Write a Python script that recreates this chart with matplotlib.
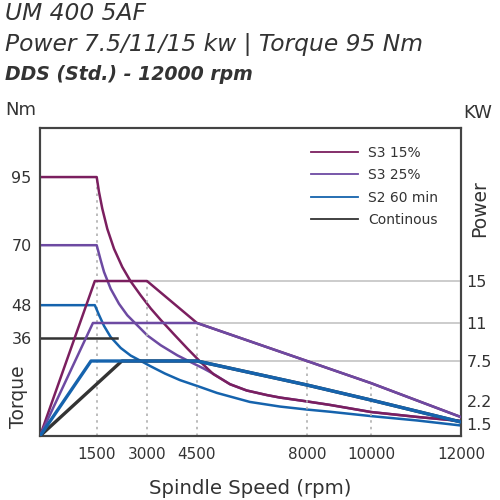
import numpy as np
import matplotlib
matplotlib.use("Agg")
import matplotlib.pyplot as plt

# --- data ---
labels = ["S3 15%", "S3 25%", "S2 60 min", "Continous"]
colors = ["#7b1f5f", "#6d4aa2", "#1563ad", "#333333"]

# torque curves (rpm, Nm)
s3_15_torque_rpm = [0, 1500, 1569, 1667, 1816, 2016, 2263, 2514, 2812, 3111, 3411, 3810, 4210,
                    4600, 5020, 5550, 6080, 6730, 7140, 7990, 8720, 10000, 11020, 12000]
s3_15_torque_nm = [95, 95, 89.5, 83.4, 76.0, 68.7, 62.0, 56.7, 51.6, 46.8, 42.6, 37.3, 32.1,
                   27.3, 22.7, 19.0, 16.7, 15.0, 14.1, 12.7, 11.4, 8.8, 7.0, 5.5]
s3_25_torque_rpm = [0, 1500, 1619, 1718, 1917, 2165, 2412, 2711, 3009, 3411, 3909, 4410, 4720,
                    5020, 5550, 6080, 6730, 7140, 7990, 8720, 10000, 11020, 12000]
s3_25_torque_nm = [70, 70, 64.5, 60.2, 54.0, 48.5, 44.3, 40.6, 36.9, 33.3, 29.6, 26.5, 24.7,
                   22.8, 19.0, 16.7, 15.0, 14.1, 12.7, 11.4, 8.8, 7.0, 5.5]
s2_torque_rpm = [0, 1450, 1569, 1718, 1917, 2216, 2514, 2791, 3090, 3540, 3990, 4595, 5136,
                 6182, 7141, 8000, 8719, 10000, 11022, 12000]
s2_torque_nm = [48, 48, 44.4, 40.4, 36.3, 32.3, 29.5, 27.7, 25.7, 22.9, 20.5, 18.0, 15.8,
                12.5, 10.8, 9.7, 8.9, 7.3, 5.7, 3.85]
cont_torque_rpm = [0, 2100]
cont_torque_nm = [36, 36]

# power curves (rpm, kW)
s3_15_power_rpm = [0, 1450, 3000, 4500, 8000, 10000, 12000]
s3_15_power_kw = [0, 15, 15, 11, 7.5, 4.57, 1.71]
s3_25_power_rpm = [0, 1400, 4500, 8000, 10000, 12000]
s3_25_power_kw = [0, 11, 11, 7.5, 4.57, 1.71]
s2_power_rpm = [0, 1350, 4500, 8000, 10000, 12000]
s2_power_kw = [0, 7.5, 7.5, 4.32, 2.33, 1.56]
cont_power_rpm = [0, 2250, 4500, 8000, 10000, 12000]
cont_power_kw = [0, 7.5, 7.5, 4.32, 2.33, 1.56]

x_ticks = [1500, 3000, 4500, 8000, 10000, 12000]
torque_ticks = [36, 48, 70, 95]
power_ticks = [1.5, 2.2, 7.5, 11, 15]

# the chart's axes are not linear: piecewise scales
x_knots = [0, 1500, 3000, 4500, 8000, 10000, 12000]
x_pos = [0, 56.7, 107, 157, 267, 331, 421]
kw_knots = [0, 1.5, 2.2, 7.5, 11, 15, 29.6]
kw_pos = [0, 0.039, 0.1136, 0.2435, 0.3669, 0.5032, 1.0]


def x_fwd(v):
    return np.interp(v, x_knots, x_pos)


def x_inv(v):
    return np.interp(v, x_pos, x_knots)


def kw_fwd(v):
    return np.interp(v, kw_knots, kw_pos)


def kw_inv(v):
    return np.interp(v, kw_pos, kw_knots)


txt = "#333333"
plt.rcParams['font.family'] = ['DejaVu Sans']

fig = plt.figure(figsize=(5, 5), dpi=100)
ax = fig.add_axes([0.08, 0.128, 0.842, 0.616])
ax.set_xscale('function', functions=(x_fwd, x_inv))
ax.set_xlim(0, 12000)
ax.set_ylim(0, 113)
ax2 = ax.twinx()
ax2.set_yscale('function', functions=(kw_fwd, kw_inv))
ax2.set_ylim(0, 29.6)

lw = 1.8
# torque
ax.plot(s3_25_torque_rpm, s3_25_torque_nm, color=colors[1], lw=lw, zorder=3)
ax.plot(s3_15_torque_rpm, s3_15_torque_nm, color=colors[0], lw=lw, zorder=4)
ax.plot(s2_torque_rpm, s2_torque_nm, color=colors[2], lw=lw, zorder=3)
ax.plot(cont_torque_rpm, cont_torque_nm, color=colors[3], lw=lw, zorder=3)
ax.vlines(1500, 0, 95, colors="#b0b0b0", linestyles=(0, (1.5, 2.5)), lw=1.2, zorder=1)

# power
ax2.hlines([15, 11, 7.5], [3000, 4500, 4500], 12000, colors="#c8c8c8", lw=1.3, zorder=1)
ax2.vlines([3000, 4500, 8000, 10000], 0, [15, 11, 7.5, 4.57], colors="#b0b0b0",
           linestyles=(0, (1.5, 2.5)), lw=1.2, zorder=1)
ax2.plot(s3_15_power_rpm, s3_15_power_kw, color=colors[0], lw=lw, zorder=3)
ax2.plot(s3_25_power_rpm, s3_25_power_kw, color=colors[1], lw=lw, zorder=4)
ax2.plot(cont_power_rpm, cont_power_kw, color=colors[3], lw=lw + 0.6, zorder=3)
ax2.plot(s2_power_rpm, s2_power_kw, color=colors[2], lw=lw + 0.6, zorder=4)

ax.set_xticks(x_ticks)
ax.set_xticklabels([str(v) for v in x_ticks])
ax.set_yticks(torque_ticks)
ax2.set_yticks(power_ticks)
ax2.set_yticklabels(["1.5", "2.2", "7.5", "11", "15"])
ax.tick_params(axis='x', length=0, pad=8, labelsize=11, labelcolor=txt)
ax.tick_params(axis='y', length=0, pad=6, labelsize=11.5, labelcolor=txt)
ax2.tick_params(axis='y', length=0, pad=4, labelsize=11.5, labelcolor=txt)
ax.minorticks_off()
ax2.minorticks_off()
for a in (ax, ax2):
    for s in a.spines.values():
        s.set_color("#444444")
        s.set_linewidth(1.5)

handles = [plt.Line2D([], [], color=c, lw=1.3) for c in colors]
fig.legend(handles, labels, loc='upper left', bbox_to_anchor=(0.597, 0.733), frameon=False,
           fontsize=10, handlelength=3.4, labelspacing=0.6, handletextpad=0.7,
           labelcolor=txt)

# titles and labels
fig.text(0.01, 0.974, "UM 400 5AF", fontsize=16.8, style='italic', color=txt, va='center')
fig.text(0.01, 0.91, "Power 7.5/11/15 kw | Torque 95 Nm", fontsize=16.8, style='italic',
         color=txt, va='center')
fig.text(0.01, 0.852, "DDS (Std.) - 12000 rpm", fontsize=13.6, style='italic',
         fontweight='bold', color=txt, va='center')
fig.text(0.01, 0.78, "Nm", fontsize=13, color=txt, va='center')
fig.text(0.926, 0.774, "KW", fontsize=13, color=txt, va='center')
fig.text(0.036, 0.206, "Torque", fontsize=13.5, color=txt, rotation=90, ha='center', va='center')
fig.text(0.96, 0.582, "Power", fontsize=13.5, color=txt, rotation=90, ha='center', va='center')
fig.text(0.501, 0.024, "Spindle Speed (rpm)", fontsize=14.2, color=txt, ha='center', va='center')

fig.savefig("out.png", dpi=100)
